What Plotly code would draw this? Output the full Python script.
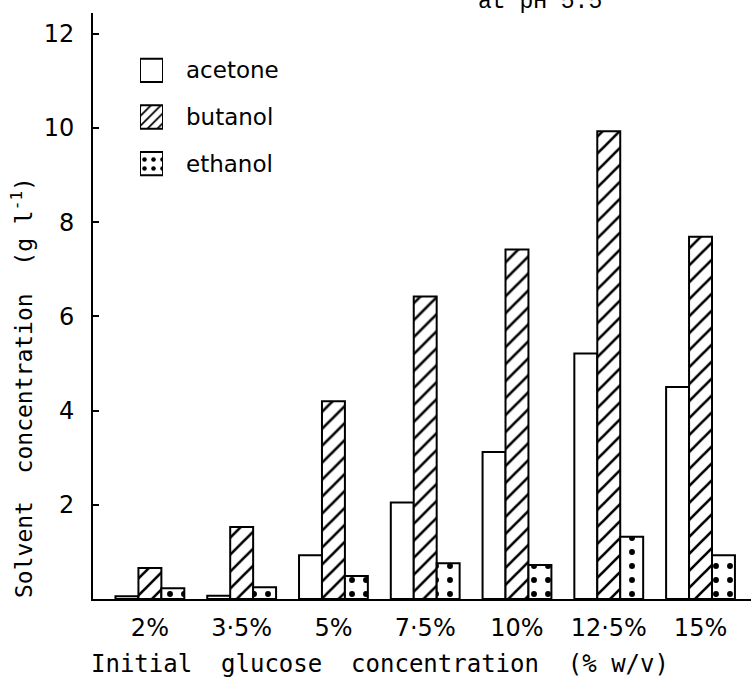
import plotly.graph_objects as go

# ---- data ----
glucose_labels = ["2%", "3\u00b75%", "5%", "7\u00b75%", "10%", "12\u00b75%", "15%"]
acetone = [0.06, 0.07, 0.93, 2.05, 3.12, 5.21, 4.50]
butanol = [0.66, 1.53, 4.20, 6.42, 7.42, 9.93, 7.69]
ethanol = [0.23, 0.25, 0.49, 0.76, 0.72, 1.32, 0.93]
series_names = ["acetone", "butanol", "ethanol"]
y_ticks = [2, 4, 6, 8, 10, 12]

FONT = "DejaVu Sans"
MONO = "DejaVu Sans Mono"
W, H = 751, 679
ML, MR, MT, MB = 93, 0, 13, 80
plot_h = H - MT - MB
plot_w = W - ML - MR

patterns = {"acetone": "", "butanol": "/", "ethanol": "."}
psize = {"acetone": 8, "butanol": 12, "ethanol": 14}
psolid = {"acetone": 0.3, "butanol": 0.22, "ethanol": 0.14}

fig = go.Figure()
for name, vals in zip(series_names, [acetone, butanol, ethanol]):
    fig.add_trace(go.Bar(
        x=glucose_labels, y=vals, name=name, showlegend=False,
        marker=dict(color="white",
                    line=dict(color="black", width=2),
                    pattern=dict(shape=patterns[name], fgcolor="black", fgopacity=1,
                                 bgcolor="white", size=psize[name],
                                 solidity=psolid[name], fillmode="replace")),
        xaxis="x", yaxis="y",
    ))

# legend built as a small inset bar chart
fig.add_trace(go.Bar(
    y=series_names, x=[1, 1, 1], orientation="h", width=0.5, showlegend=False,
    marker=dict(color="white", line=dict(color="black", width=2),
                pattern=dict(shape=[patterns[n] for n in series_names],
                             size=[7, 7, 9],
                             solidity=[0.3, 0.25, 0.2],
                             fgcolor="black", fgopacity=1, bgcolor="white",
                             fillmode="replace")),
    xaxis="x2", yaxis="y2", hoverinfo="skip",
))

def px_x(px):
    return (px - ML) / plot_w

def px_y(py):
    return (H - MB - py) / plot_h

fig.update_layout(
    width=W, height=H, template="none",
    margin=dict(l=ML, r=MR, t=MT, b=MB, pad=0),
    paper_bgcolor="white", plot_bgcolor="white",
    barmode="group", bargap=0.25, bargroupgap=0,
    font=dict(family=FONT, color="black", size=23),
    xaxis=dict(type="category", range=[-0.62, 6.55], showline=True,
               linecolor="black", linewidth=2,
               ticks="", showgrid=False, zeroline=False, automargin=False,
               tickfont=dict(size=24), ticklabelstandoff=6),
    yaxis=dict(range=[0, 12.44], showline=True, linecolor="black", linewidth=2,
               tickvals=y_ticks, ticks="inside", ticklen=6, tickwidth=1.5, tickcolor="black",
               showgrid=False, zeroline=False, automargin=False,
               tickfont=dict(size=24), ticklabelstandoff=12),
    xaxis2=dict(domain=[px_x(140), px_x(163)], range=[0, 1], anchor="y2",
                showline=False, showticklabels=False, showgrid=False, zeroline=False,
                ticks="", automargin=False),
    yaxis2=dict(domain=[px_y(187), px_y(47)], anchor="x2", side="right",
                autorange="reversed", showline=False, showgrid=False, zeroline=False,
                ticks="", automargin=False, tickfont=dict(size=23),
                ticklabelstandoff=22),
    annotations=[
        dict(text="at pH 5.5", xref="paper", yref="paper",
             x=px_x(540), y=px_y(2), xanchor="center", yanchor="middle",
             showarrow=False,
             font=dict(family="Liberation Mono", size=23, color="black")),
        dict(text="Initial\u00a0\u00a0glucose\u00a0\u00a0concentration\u00a0\u00a0(%\u00a0w/v)",
             xref="paper", yref="paper", x=px_x(380), y=px_y(664),
             xanchor="center", yanchor="middle", showarrow=False,
             font=dict(family=MONO, size=24, color="black")),
        dict(text="Solvent\u00a0\u00a0concentration\u00a0\u00a0(g\u00a0l<sup>-1</sup>)",
             xref="paper", yref="paper", x=px_x(22), y=px_y(388),
             xanchor="center", yanchor="middle", showarrow=False, textangle=-90,
             font=dict(family=MONO, size=23, color="black")),
    ],
)

fig.write_html("out.html")
